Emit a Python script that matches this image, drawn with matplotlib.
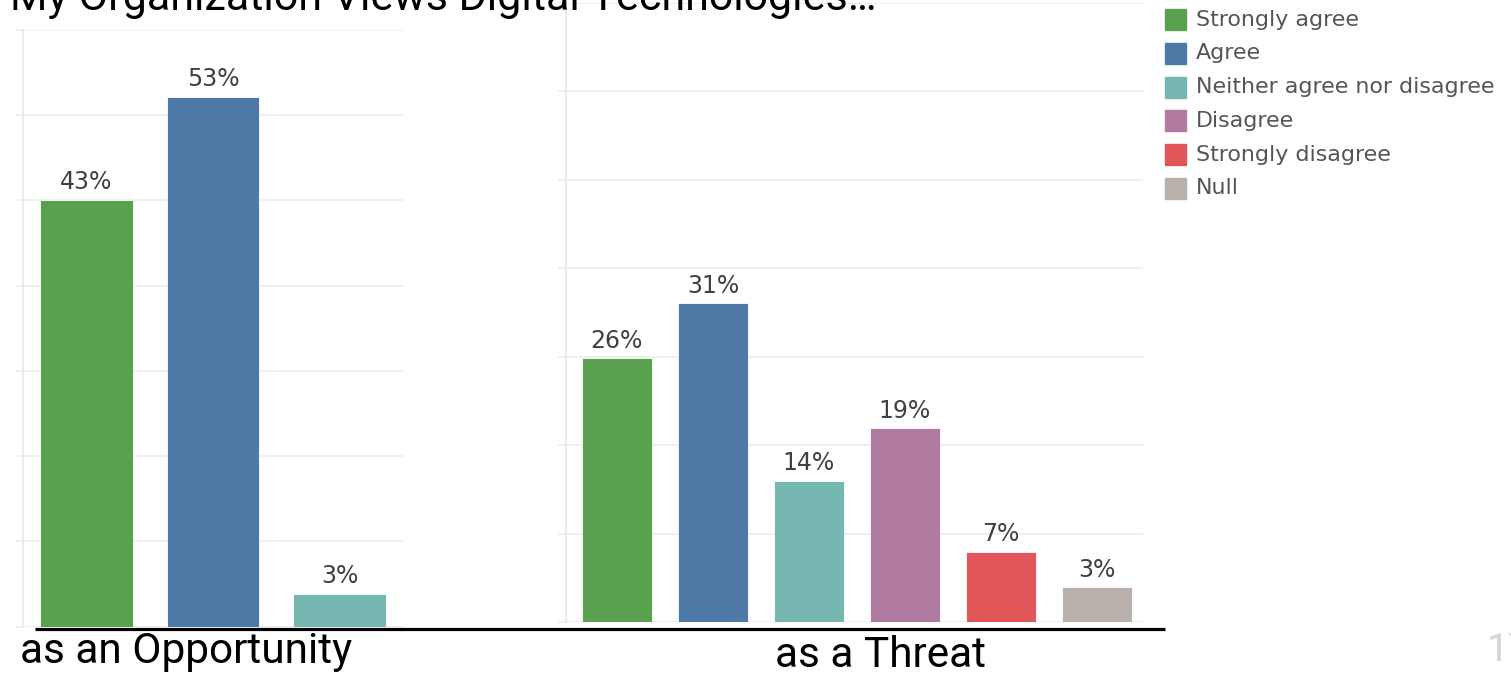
import matplotlib
matplotlib.use("Agg")
import matplotlib.pyplot as plt
import numpy as np
from matplotlib.lines import Line2D
from matplotlib.patches import Rectangle

W, H = 1511, 673

# survey answers
categories = ["Strongly agree", "Agree", "Neither agree nor disagree",
              "Disagree", "Strongly disagree", "Null"]
colors = ["#59A14F", "#4E79A7", "#76B7B2", "#B07AA1", "#E15759", "#BAB0AC"]

opportunity = [42.7, 53.0, 3.3]
threat = [26.0, 31.4, 13.9, 19.1, 6.9, 3.4]
opportunity_labels = ["43%", "53%", "3%"]
threat_labels = ["26%", "31%", "14%", "19%", "7%", "3%"]

TITLE = "My Organization Views Digital Technologies…"
NARROW = ["Liberation Sans Narrow", "Roboto", "DejaVu Sans"]
BOOK = ["DejaVu Sans"]
GRID = "#ececec"


def px_rect(x0, y_top, x1, y_bot):
    """Pixel box (origin top-left) -> figure fraction [l, b, w, h]."""
    return [x0 / W, 1 - y_bot / H, (x1 - x0) / W, (y_bot - y_top) / H]


def panel(ax, values, labels, cols, ymax, xlim):
    x = np.arange(len(values))
    bars = ax.bar(x, values, width=0.73, color=cols, edgecolor="white", linewidth=0.6)
    ax.bar_label(bars, labels=labels, padding=4, fontsize=17,
                 color="#404040", family=BOOK)
    ax.set_xlim(*xlim)
    ax.set_ylim(0, ymax)
    step = ymax / 7
    ax.set_yticks(np.arange(0, ymax + step / 2, step))
    ax.grid(axis="y", color=GRID, lw=1.2)
    ax.set_axisbelow(True)
    ax.tick_params(axis="y", length=6, color=GRID, width=1.2, labelleft=False)
    ax.tick_params(axis="x", length=0, labelbottom=False)
    for side in ("top", "right", "bottom"):
        ax.spines[side].set_visible(False)
    ax.spines["left"].set_color("#e8e8e8")
    ax.spines["left"].set_linewidth(1.2)
    ax.patch.set_alpha(0)


fig = plt.figure(figsize=(W / 100, H / 100), dpi=100)

ax_l = fig.add_axes(px_rect(23, 30, 403, 626.5))
panel(ax_l, opportunity, opportunity_labels, colors[:3],
      (626.5 - 30) / 10.0, (-0.5, 2.5))

ax_r = fig.add_axes(px_rect(566, 3, 1143, 622))
panel(ax_r, threat, threat_labels, colors, 619 / 10.15, (-0.53, 5.48))

# heavy baseline under both panels
fig.add_artist(Line2D([35 / W, 1165 / W], [1 - 628.5 / H] * 2,
                      color="black", lw=2.3, solid_capstyle="butt"))

fig.text(20 / W, 1 - 663 / H, "as an Opportunity", fontsize=30.5,
         family=NARROW, va="baseline", ha="left")
fig.text(881 / W, 1 - 667 / H, "as a Threat", fontsize=30.5,
         family=NARROW, va="baseline", ha="center")
fig.text(10 / W, 1 - 10 / H, TITLE, fontsize=31, family=NARROW,
         va="baseline", ha="left")
fig.text(1487 / W, 1 - 661 / H, "17", fontsize=28, family=NARROW,
         color="#d4d4d4", va="baseline", ha="left")

# legend, drawn by hand to keep the Tableau spacing
for i, (name, c) in enumerate(zip(categories, colors)):
    yc = 19.5 + i * 33.8
    fig.add_artist(Rectangle((1165 / W, 1 - (yc + 10.5) / H), 21 / W, 21 / H,
                             transform=fig.transFigure, color=c))
    fig.text(1196 / W, 1 - yc / H, name, fontsize=15.9, family=BOOK,
             color="#555555", va="center", ha="left")

fig.savefig("out.png", dpi=100)
